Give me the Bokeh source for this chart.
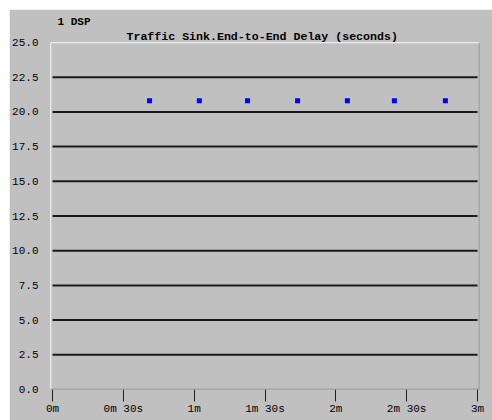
from bokeh.plotting import figure
from bokeh.models import Range1d, Span, Title, FixedTicker, Spacer, CustomJSTickFormatter
from bokeh.layouts import column, row
from bokeh.embed import file_html
from bokeh.resources import INLINE

# Data (time in seconds, delay in seconds)
times = [41.1, 62.2, 82.6, 103.8, 124.9, 144.8, 166.4]
delays = [20.8, 20.8, 20.8, 20.8, 20.8, 20.8, 20.8]

x_ticks = [0, 30, 60, 90, 120, 150, 180]
x_tick_labels = ["0m", "0m 30s", "1m", "1m 30s", "2m", "2m 30s", "3m"]
y_ticks = [0.0, 2.5, 5.0, 7.5, 10.0, 12.5, 15.0, 17.5, 20.0, 22.5, 25.0]
grid_levels = [2.5, 5.0, 7.5, 10.0, 12.5, 15.0, 17.5, 20.0, 22.5]

panel_title = "1 DSP"
chart_title = "Traffic Sink.End-to-End Delay (seconds)"

GRAY = "#c0c0c0"
FONT = "Liberation Mono"

x_start, x_end = x_ticks[0] - 0.85, x_ticks[-1] + 0.85

p = figure(width=483, height=411, output_backend="svg", toolbar_location=None,
           x_range=Range1d(x_start, x_end), y_range=Range1d(y_ticks[0], y_ticks[-1]),
           min_border_left=41, min_border_right=13, min_border_top=33, min_border_bottom=31,
           title=panel_title)
p.background_fill_color = GRAY
p.border_fill_color = GRAY
p.outline_line_color = None
p.xgrid.visible = False
p.ygrid.visible = False

p.title.align = "left"
p.title.offset = 7
p.title.standoff = 0
p.title.text_font = FONT
p.title.text_font_size = "11px"
p.title.text_font_style = "bold"
p.title.text_color = "black"

p.add_layout(Title(text=chart_title, align="left", offset=76, standoff=0, text_font=FONT,
                   text_font_size="11.6px", text_font_style="bold", text_color="black"), "above")

# horizontal grid lines
p.segment(x0=[x_ticks[0]] * len(grid_levels), x1=[x_ticks[-1]] * len(grid_levels),
          y0=grid_levels, y1=grid_levels, line_color="#1a1a1a", line_width=2)

# frame edges
p.add_layout(Span(location=y_ticks[-1], dimension="width", line_color="white", line_width=1.5))
p.add_layout(Span(location=x_start, dimension="height", line_color="white", line_width=1.5))
p.add_layout(Span(location=y_ticks[0], dimension="width", line_color="#808080", line_width=1.5))
p.add_layout(Span(location=x_end, dimension="height", line_color="#808080", line_width=1.5))

# data points
p.scatter(times, delays, marker="square", size=5, fill_color="#0000ff", line_color=None)

# x axis
xa = p.xaxis[0]
xa.ticker = FixedTicker(ticks=x_ticks)
xa.major_label_overrides = {t: l for t, l in zip(x_ticks, x_tick_labels)}
xa.axis_line_color = None
xa.major_tick_in = 0
xa.major_tick_out = 12
xa.major_tick_line_color = "#202020"
xa.minor_tick_line_color = None
xa.major_label_standoff = 1
xa.major_label_text_font = FONT
xa.major_label_text_font_size = "11px"
xa.major_label_text_color = "black"

# y axis
ya = p.yaxis[0]
ya.ticker = FixedTicker(ticks=y_ticks)
ya.formatter = CustomJSTickFormatter(code="return tick.toFixed(1);")
ya.axis_line_color = None
ya.major_tick_line_color = None
ya.minor_tick_line_color = None
ya.major_label_standoff = 6
ya.major_label_text_font = FONT
ya.major_label_text_font_size = "11px"
ya.major_label_text_color = "black"

layout = column(Spacer(height=9), row(Spacer(width=9), p), spacing=0)
open("out.html", "w").write(file_html(layout, INLINE))
